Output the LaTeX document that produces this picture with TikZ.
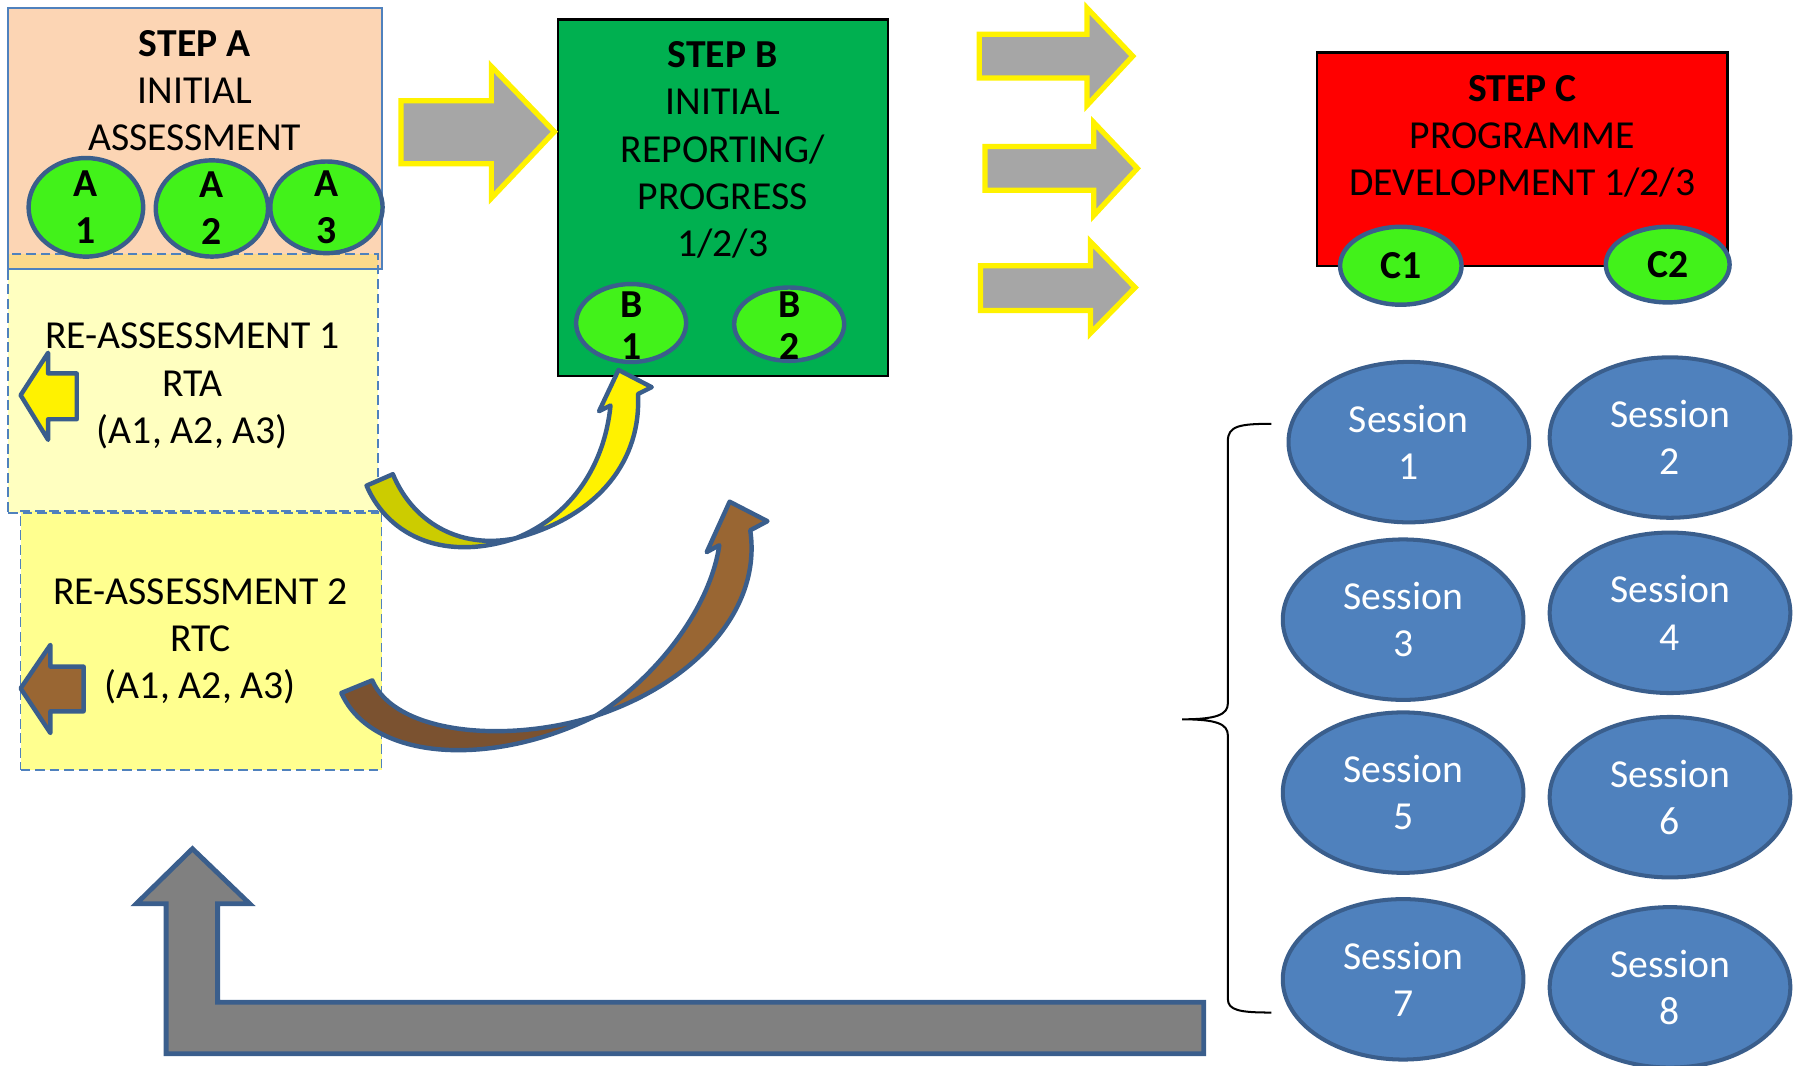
\documentclass[tikz,border=0pt]{standalone}
\usepackage{fontspec}
\setmainfont{Carlito}
\usetikzlibrary{shapes.geometric}
\definecolor{peach}{HTML}{FCD5B4}
\definecolor{ylight}{HTML}{FFFFC0}
\definecolor{ymid}{HTML}{FFFF8F}
\definecolor{stripc}{HTML}{FBD98A}
\definecolor{bblue}{HTML}{4F81BD}
\definecolor{dblue}{HTML}{3A5E8C}
\definecolor{lgreen}{HTML}{42F21A}
\definecolor{sgreen}{HTML}{00B050}
\definecolor{agrey}{HTML}{A6A6A6}
\definecolor{lgrey}{HTML}{808080}
\definecolor{olive}{HTML}{CCCC00}
\definecolor{brownl}{HTML}{996633}
\definecolor{brownd}{HTML}{7B5230}
\begin{document}
\begin{tikzpicture}[x=0.01cm,y=-0.01cm,
  txt/.style={font=\fontsize{9.85}{11.75}\selectfont, align=center, inner sep=0},
  btxt/.style={txt, font=\fontsize{9.85}{11.75}\selectfont\bfseries},
  wtxt/.style={txt, text=white},
  boxn/.style={anchor=north west, inner sep=0, outer sep=0},
  dashbox/.style={boxn, draw=bblue, line width=0.4pt, dash pattern=on 2.4pt off 1.2pt},
  gell/.style={ellipse, inner sep=0, fill=lgreen, draw=dblue, line width=1.1pt},
  sell/.style={ellipse, inner sep=0, fill=bblue, draw=dblue, line width=1pt, minimum width=2.1cm, minimum height=1.4cm},
  yarrow/.style={fill=agrey, draw=yellow, line width=1.3pt, line join=miter},
  barrow/.style={draw=dblue, line width=1.1pt, line join=round}
]
\useasboundingbox (0,0) rectangle (1568,930);

% ---- Step A and re-assessment boxes ----
\node[boxn, fill=ylight, minimum width=3.23cm, minimum height=2.26cm] (re1) at (7,222) {};
\node[boxn, fill=ymid, minimum width=3.15cm, minimum height=2.26cm] (re2) at (18,446) {};
\node[boxn, fill=peach, minimum width=3.26cm, minimum height=2.28cm] (stepA) at (7,7) {};
\fill[stripc] (re1.north west) rectangle (stepA.south -| re1.east);
\node[dashbox, minimum width=3.23cm, minimum height=2.26cm] (re1b) at (7,222) {};
\node[dashbox, minimum width=3.15cm, minimum height=2.26cm] (re2b) at (18,446) {};
\node[boxn, draw=bblue, line width=0.5pt, minimum width=3.26cm, minimum height=2.28cm] (stepAb) at (7,7) {};

\node[txt] (stepAt) at (170,79) {\textbf{STEP A}\\INITIAL\\ASSESSMENT};
\node[gell, minimum width=1.00cm, minimum height=0.86cm] (a1) at (75,181) {};
\node[gell, minimum width=0.98cm, minimum height=0.84cm] (a2) at (185,182) {};
\node[gell, minimum width=0.98cm, minimum height=0.80cm] (a3) at (285,181) {};
\node[btxt] (a1t) at (a1) {A\\1};
\node[btxt] (a2t) at (a2) {A\\2};
\node[btxt] (a3t) at (a3) {A\\3};

\node[txt] (re1t) at (168,337) {RE-ASSESSMENT 1\\RTA\\(A1, A2, A3)};
\node[txt] (re2t) at (175,560) {RE-ASSESSMENT 2\\RTC\\(A1, A2, A3)};

% left block arrows
\draw[barrow, fill=yellow] (67,326) -- (42,326) -- (42,308) -- (18,345) -- (42,384) -- (42,366) -- (67,366) -- cycle;
\draw[barrow, fill=brownl] (73,582) -- (44,582) -- (44,563) -- (18,601) -- (44,640) -- (44,621) -- (73,621) -- cycle;

% ---- Step B ----
\node[boxn, fill=sgreen, draw=black, line width=0.6pt, minimum width=2.88cm, minimum height=3.11cm] (stepB) at (487,17) {};
\node[txt] (stepBt) at (631,131) {\textbf{STEP B}\\INITIAL\\REPORTING/\\PROGRESS\\1/2/3};
\node[gell, minimum width=0.96cm, minimum height=0.68cm] (b1) at (551,282) {};
\node[gell, minimum width=0.96cm, minimum height=0.64cm] (b2) at (689,283) {};
\node[btxt, font=\fontsize{9.85}{10.5}\selectfont\bfseries] (b1t) at (551,284) {B\\1};
\node[btxt, font=\fontsize{9.85}{10.5}\selectfont\bfseries] (b2t) at (689,284) {B\\2};

% arrow A -> B
\draw[yarrow] (350,88) -- (429,88) -- (429,58) -- (484,115) -- (429,173) -- (429,143) -- (350,143) -- cycle;

% three right arrows
\draw[yarrow] (855,30) -- (949,30) -- (949,7) -- (989,49) -- (949,92) -- (949,68) -- (855,68) -- cycle;
\draw[yarrow] (860,128) -- (955,128) -- (955,107) -- (993,147) -- (955,188) -- (955,166) -- (860,166) -- cycle;
\draw[yarrow] (856,232) -- (952,232) -- (952,211) -- (991,251) -- (952,291) -- (952,271) -- (856,271) -- cycle;

% ---- Step C ----
\node[boxn, fill=red, draw=black, line width=0.6pt, minimum width=3.58cm, minimum height=1.86cm] (stepC) at (1150,46) {};
\node[txt] (stepCt) at (1329,119) {\textbf{STEP C}\\PROGRAMME\\DEVELOPMENT 1/2/3};
\node[gell, minimum width=1.06cm, minimum height=0.68cm] (c1) at (1223,232) {};
\node[gell, minimum width=1.08cm, minimum height=0.66cm] (c2) at (1456,231) {};
\node[btxt] (c1t) at (c1) {C1};
\node[btxt] (c2t) at (c2) {C2};

% ---- Sessions ----
\node[sell] (s1) at (1230,386) {};
\node[sell] (s2) at (1458,382) {};
\node[sell] (s3) at (1225,541) {};
\node[sell] (s4) at (1458,535) {};
\node[sell] (s5) at (1225,692) {};
\node[sell] (s6) at (1458,696) {};
\node[sell] (s7) at (1225,855) {};
\node[sell] (s8) at (1458,862) {};
\foreach \i in {1,...,8} {\node[wtxt] (s\i t) at (s\i) {Session\\\i};}

% brace
\draw[line width=0.5pt] (1110,370) .. controls (1082,370) and (1072,372) .. (1072,385) -- (1072,614) .. controls (1072,624) and (1062,628) .. (1032,628) .. controls (1062,628) and (1072,632) .. (1072,642) -- (1072,872) .. controls (1072,882) and (1082,884) .. (1110,884);

% ---- curved arrows ----
\draw[barrow, fill=olive] (320,424) .. controls (340,470) and (390,490) .. (450,470) .. controls (400,480) and (360,455) .. (343,414) -- cycle;
\draw[barrow, fill=yellow] (450,470) .. controls (500,450) and (528,405) .. (533,354) -- (523,359) -- (540,323) -- (569,338) -- (557,344) .. controls (560,400) and (525,450) .. (450,470) -- cycle;

\draw[barrow, fill=brownd] (298,605) .. controls (325,665) and (430,670) .. (520,625) .. controls (440,650) and (345,640) .. (325,594) -- cycle;
\draw[barrow, fill=brownl] (520,625) .. controls (575,590) and (620,530) .. (628,476) -- (617,482) -- (637,438) -- (670,455) -- (655,463) .. controls (665,530) and (610,595) .. (520,625) -- cycle;

% ---- bottom L arrow ----
\draw[fill=lgrey, draw=dblue, line width=1.2pt, line join=miter] (1051,875) -- (190,875) -- (190,789) -- (218,789) -- (168,741) -- (119,789) -- (145,789) -- (145,920) -- (1051,920) -- cycle;
\end{tikzpicture}
\end{document}
